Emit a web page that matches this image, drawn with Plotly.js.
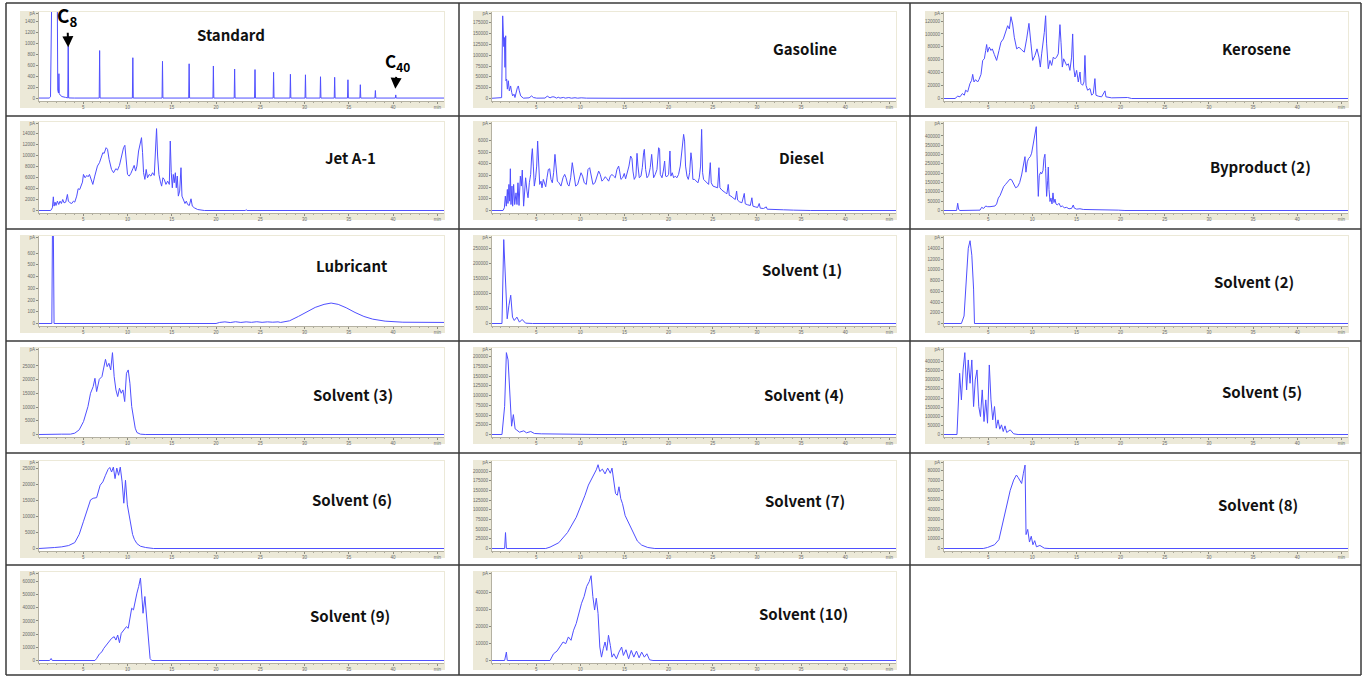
<!DOCTYPE html>
<html><head><meta charset="utf-8">
<script src="https://cdn.plot.ly/plotly-3.0.1.min.js"></script>
<style>html,body{margin:0;padding:0;background:#fff;overflow:hidden}#chart{width:1369px;height:676px}</style>
</head><body><div id="chart"></div>
<script>
// ---------- DATA: chromatograms [retention time (min), signal (pA)] ----------
const titles = ['Standard','Gasoline','Kerosene','Jet A-1','Diesel','Byproduct (2)','Lubricant',
  'Solvent (1)','Solvent (2)','Solvent (3)','Solvent (4)','Solvent (5)','Solvent (6)','Solvent (7)',
  'Solvent (8)','Solvent (9)','Solvent (10)'];

const standard = [[0,8],[1.15,8],[1.3,30],[1.45,2000],[2.0,2000],[2.06,2000],[2.12,150],[2.2,100],[2.25,450],[2.29,90],[2.4,60],[2.6,35],[3.0,20],[3.25,12],[3.3,950],[3.35,10],[4.0,8],
  [6.8,8],[6.85,870],[6.9,8],[10.55,8],[10.6,740],[10.65,8],[13.9,8],[13.95,675],[14.0,8],[16.91,8],[16.96,630],[17.01,8],
  [19.65,8],[19.7,590],[19.75,8],[22.05,8],[22.1,535],[22.15,8],[24.35,8],[24.4,525],[24.45,8],[26.45,8],[26.5,475],[26.55,8],
  [28.35,8],[28.4,440],[28.45,8],[30.05,8],[30.1,430],[30.15,8],[31.75,8],[31.8,395],[31.85,8],[33.35,8],[33.4,385],[33.45,8],
  [34.85,8],[34.9,340],[34.95,8],[36.25,8],[36.3,250],[36.35,8],[37.95,8],[38.0,145],[38.05,8],[40.25,8],[40.3,65],[40.35,8],[45.75,8]];

const gasoline = [[0,500],[1.05,500],[1.09,2000],[1.21,191000],[1.28,164000],[1.34,120000],[1.40,141000],[1.47,72000],[1.55,145000],[1.58,41000],[1.66,45000],[1.74,21600],[1.85,41000],[1.96,17700],[2.11,29000],[2.23,14000],[2.34,6000],[2.49,10000],[2.60,2300],[2.87,25000],[2.98,29000],[3.09,17700],[3.25,6000],[3.55,800],[4.2,1500],[4.49,6000],[4.68,2300],[5.06,800],[6.0,1000],[6.26,5400],[6.57,1500],[6.8,3800],[7.02,3800],[7.32,800],[7.5,3000],[7.7,900],[8.08,2500],[8.3,800],[8.7,2200],[9.0,700],[9.4,1800],[9.7,700],[10.1,1600],[10.7,800],[11.5,1000],[12.5,600],[14.5,500],[45.75,500]];

const kerosene = [[0,0],[1.25,0],[1.55,3600],[1.81,2600],[2.08,7700],[2.30,5100],[2.45,12800],[2.68,10300],[2.94,23100],[3.13,28200],[3.25,37400],[3.40,25600],[3.58,29200],[3.81,25600],[3.96,29200],[4.19,37400],[4.38,59000],[4.57,61500],[4.72,74400],[4.83,83600],[4.94,71800],[5.13,79500],[5.32,74400],[5.47,76900],[5.70,68200],[5.96,59000],[6.23,74400],[6.45,87200],[6.72,92300],[6.98,105100],[7.21,112800],[7.40,107700],[7.58,126700],[7.77,115400],[7.96,94900],[8.23,76900],[8.49,79500],[8.79,75400],[9.09,71800],[9.36,92300],[9.62,116400],[9.85,84600],[10.04,59000],[10.30,66700],[10.53,76900],[10.75,64100],[10.91,48700],[11.06,69200],[11.25,87200],[11.36,102600],[11.51,128200],[11.62,84600],[11.81,46200],[12.0,59000],[12.19,51300],[12.38,64100],[12.57,61500],[12.75,64100],[12.94,69200],[13.13,114400],[13.25,87200],[13.40,48700],[13.55,61500],[13.70,56400],[13.89,51300],[14.08,53800],[14.26,43600],[14.45,64100],[14.57,100000],[14.68,48700],[14.83,33300],[15.02,43600],[15.21,25600],[15.40,41000],[15.51,23100],[15.70,20500],[15.85,25600],[15.96,66700],[16.08,20500],[16.26,12800],[16.53,15400],[16.72,5100],[16.91,7700],[17.09,30800],[17.21,5100],[17.47,3600],[17.85,2600],[18.23,11800],[18.34,2600],[18.98,1000],[20.79,1500],[21.25,0],[45.75,0]];

const jetA1 = [[0,0],[1.32,0],[1.51,480],[1.62,2480],[1.70,790],[1.81,1520],[1.92,910],[2.08,1700],[2.23,1090],[2.38,1700],[2.53,1270],[2.68,2000],[2.83,1390],[3.02,1520],[3.21,2910],[3.32,1700],[3.51,1390],[3.70,1270],[3.89,1700],[4.04,1520],[4.26,2610],[4.42,3940],[4.60,3820],[4.72,4420],[4.91,5150],[5.02,6540],[5.21,5940],[5.40,6360],[5.55,6120],[5.70,6540],[5.85,5640],[6.08,4730],[6.30,6240],[6.60,8060],[6.83,8670],[7.06,9880],[7.21,10480],[7.36,10360],[7.58,11390],[7.74,11090],[7.92,9270],[8.19,7450],[8.42,6850],[8.68,7580],[8.87,7330],[9.09,8180],[9.32,9880],[9.55,11390],[9.70,11820],[9.85,9270],[10.0,6540],[10.19,6240],[10.38,6730],[10.60,7580],[10.75,8180],[10.91,7150],[11.06,8060],[11.25,10790],[11.43,12420],[11.58,13210],[11.70,10480],[11.81,6850],[11.96,5640],[12.11,7450],[12.26,5940],[12.45,6540],[12.64,6240],[12.83,6850],[13.02,6360],[13.13,9880],[13.28,14850],[13.40,9880],[13.55,6540],[13.70,5330],[13.85,4420],[14.0,5940],[14.15,5640],[14.34,4730],[14.53,5330],[14.72,4730],[14.83,12600],[14.94,6850],[15.06,4120],[15.17,6540],[15.28,5030],[15.40,6850],[15.51,4120],[15.62,6240],[15.74,2610],[15.89,3520],[16.04,7760],[16.15,2610],[16.30,2000],[16.49,1270],[16.64,1700],[16.79,1090],[16.98,910],[17.17,2120],[17.32,790],[17.55,480],[17.92,180],[18.30,60],[18.68,0],[23.3,0],[23.4,150],[23.5,0],[45.75,0]];

const diesel = [[0,0],[1.25,0],[1.40,230],[1.51,1230],[1.62,370],[1.74,1800],[1.81,600],[1.92,2230],[2.00,800],[2.08,3570],[2.15,510],[2.26,2090],[2.34,370],[2.45,2230],[2.57,510],[2.72,1510],[2.83,510],[2.94,2370],[3.06,430],[3.21,2940],[3.32,2090],[3.43,3460],[3.58,370],[3.70,2090],[3.81,2800],[3.96,1660],[4.08,1090],[4.23,2370],[4.38,3090],[4.49,4660],[4.57,5290],[4.68,3800],[4.79,2090],[4.94,2800],[5.06,3800],[5.17,5940],[5.28,3800],[5.40,2230],[5.55,2510],[5.66,1940],[5.81,2660],[5.92,2370],[6.08,2030],[6.23,2800],[6.38,3510],[6.53,3570],[6.68,2660],[6.83,2370],[6.98,3230],[7.13,4800],[7.25,3510],[7.40,2510],[7.58,2370],[7.81,2090],[8.04,2800],[8.23,3090],[8.38,2800],[8.57,2230],[8.72,2090],[8.91,2800],[9.09,4090],[9.28,3090],[9.47,2090],[9.70,2230],[9.89,2800],[10.08,3230],[10.26,2940],[10.45,2370],[10.68,2230],[10.87,3510],[11.06,3660],[11.25,2940],[11.43,2230],[11.66,2370],[11.89,2940],[12.08,3370],[12.26,3090],[12.45,2510],[12.64,2660],[12.83,2890],[13.02,2710],[13.21,2510],[13.40,2940],[13.58,3090],[13.77,2940],[13.96,2800],[14.15,3510],[14.34,3800],[14.45,3370],[14.60,2660],[14.79,2800],[14.98,3170],[15.13,2710],[15.32,3230],[15.51,3800],[15.70,4660],[15.85,4430],[15.96,3370],[16.11,2660],[16.30,2940],[16.42,4890],[16.53,3800],[16.68,2800],[16.87,2940],[17.02,3660],[17.17,4940],[17.25,5230],[17.40,3510],[17.55,2800],[17.74,3000],[17.92,3660],[18.08,4800],[18.15,3940],[18.30,2800],[18.49,3090],[18.68,3510],[18.87,5370],[18.98,5230],[19.06,3090],[19.25,2800],[19.40,3370],[19.55,4230],[19.66,2940],[19.81,2890],[20.0,3090],[20.15,5090],[20.26,2940],[20.41,3230],[20.57,2800],[20.75,2940],[20.94,2800],[21.13,3090],[21.32,3800],[21.51,5230],[21.70,6510],[21.81,5940],[21.92,3800],[22.08,2940],[22.23,2660],[22.38,3230],[22.53,4940],[22.64,4230],[22.75,2660],[22.94,2660],[23.13,2510],[23.32,2370],[23.47,2800],[23.62,3800],[23.74,6940],[23.85,3230],[23.96,2660],[24.15,2510],[24.34,2370],[24.53,2230],[24.72,4090],[24.83,2370],[25.02,2090],[25.21,2030],[25.40,1940],[25.55,1940],[25.70,3660],[25.81,1940],[26.04,1740],[26.23,1660],[26.45,1510],[26.60,1430],[26.75,2230],[26.87,1290],[27.06,1230],[27.28,1090],[27.55,940],[27.70,1660],[27.81,890],[28.04,740],[28.30,660],[28.57,1460],[28.68,570],[28.94,490],[29.25,430],[29.43,1090],[29.55,370],[29.81,310],[30.08,260],[30.26,600],[30.38,200],[30.75,170],[31.06,310],[31.17,110],[31.51,90],[31.89,110],[32.26,60],[33.02,60],[34.15,30],[36.04,0],[45.75,0]];

const byproduct2 = [[0,0],[1.43,0],[1.55,38900],[1.66,5600],[1.81,0],[4.08,1900],[4.26,16700],[4.49,11100],[4.72,24100],[4.94,20400],[5.21,20400],[5.47,20400],[5.77,24100],[5.96,35200],[6.15,66700],[6.34,79600],[6.53,103700],[6.75,127800],[6.98,140700],[7.21,153700],[7.47,168500],[7.66,164800],[7.89,140700],[8.11,122200],[8.34,127800],[8.57,150000],[8.79,190700],[8.98,242600],[9.17,288900],[9.28,205600],[9.43,261100],[9.58,279600],[9.77,288900],[9.92,307400],[10.08,353700],[10.23,390700],[10.38,418500],[10.45,450000],[10.53,298100],[10.60,85200],[10.68,75900],[10.79,187000],[10.94,205600],[11.06,196300],[11.21,214800],[11.32,279600],[11.43,301900],[11.51,224100],[11.62,75900],[11.74,159300],[11.81,233300],[11.89,113000],[12.0,48100],[12.11,66700],[12.23,35200],[12.34,94400],[12.45,42600],[12.57,61100],[12.68,35200],[12.83,29600],[13.02,38900],[13.21,20400],[13.40,24100],[13.62,14800],[13.89,16700],[14.15,9300],[14.45,11100],[14.64,29600],[14.75,13000],[15.02,7400],[15.40,9300],[15.77,5600],[16.34,5600],[17.09,3700],[18.23,5600],[18.98,5600],[19.74,1900],[20.49,0],[45.75,0]];

const lubricant = [[0,0],[1.45,0],[1.52,800],[1.62,800],[1.7,0],[20.0,0],[20.4,9],[21.0,14],[21.6,8],[22.2,15],[22.8,9],[23.4,14],[24.0,10],[24.6,15],[25.2,10],[25.8,14],[26.4,11],[27.0,14],[27.3,9],[28.3,23],[29.3,60],[30.2,100],[31.2,137],[32.2,163],[33.0,174],[33.8,163],[34.7,134],[35.7,94],[36.7,60],[37.7,37],[39.1,20],[41.1,11],[45.1,9],[45.75,9]];

const solvent1 = [[0,0],[1.13,0],[1.33,280000],[1.53,139000],[1.72,15700],[1.92,60700],[2.12,94400],[2.32,21300],[2.52,10100],[2.82,21300],[3.11,4500],[3.41,13500],[3.8,1100],[4.6,0],[45.75,0]];

const solvent2 = [[0,0],[1.97,0],[2.27,1390],[2.56,8330],[2.75,14000],[2.95,15400],[3.15,12700],[3.35,6400],[3.45,0],[45.75,0]];

const solvent3 = [[0,0],[1.08,120],[1.6,240],[2.56,120],[3.55,120],[4.04,490],[4.54,1700],[5.03,4730],[5.53,10190],[5.82,15050],[6.12,17480],[6.32,20510],[6.51,15660],[6.81,20150],[7.11,21120],[7.31,24150],[7.51,27430],[7.70,24760],[7.90,25980],[8.10,23550],[8.30,29860],[8.49,21120],[8.69,16270],[8.89,13840],[9.09,16880],[9.29,15050],[9.48,16270],[9.68,12020],[9.88,22340],[10.08,23550],[10.27,18700],[10.47,10200],[10.67,6560],[10.87,2310],[11.06,730],[11.46,120],[12.0,0],[45.75,0]];

const solvent4 = [[0,0],[1.13,0],[1.43,72300],[1.63,210000],[1.82,191300],[2.02,106300],[2.22,21300],[2.42,51000],[2.62,14500],[2.82,11100],[3.11,5900],[3.60,9400],[3.9,4300],[4.39,7700],[4.8,2600],[5.58,1700],[7.5,850],[9.5,850],[12.0,0],[45.75,0]];

const solvent5 = [[0,0],[1.47,0],[1.77,335800],[1.97,189800],[2.16,354000],[2.36,448900],[2.56,244500],[2.75,408800],[2.95,281000],[3.15,408800],[3.35,153300],[3.54,299300],[3.74,354000],[3.94,153300],[4.13,98500],[4.33,244500],[4.53,71200],[4.73,189800],[4.93,62000],[5.13,381400],[5.32,189800],[5.52,80300],[5.72,153300],[5.92,34700],[6.12,80300],[6.32,29200],[6.51,52900],[6.71,16400],[6.91,47400],[7.10,11000],[7.50,25500],[7.89,3600],[8.39,0],[45.75,0]];

const solvent6 = [[0,0],[1.08,100],[1.77,310],[2.56,510],[3.35,920],[4.04,1840],[4.54,4390],[5.03,8470],[5.53,12550],[5.82,15100],[6.12,15610],[6.51,15810],[6.91,19690],[7.21,20710],[7.51,22760],[7.80,24590],[8.0,25200],[8.20,23770],[8.40,25300],[8.59,21730],[8.79,25000],[8.99,22760],[9.18,25300],[9.39,20710],[9.58,14080],[9.77,21220],[9.98,13570],[10.17,10510],[10.37,6940],[10.57,4390],[10.77,2860],[11.06,1530],[11.46,710],[12.05,310],[12.94,0],[45.75,0]];

const solvent7 = [[0,0],[1.43,0],[1.53,41200],[1.63,0],[6.08,0],[6.57,3500],[7.56,14900],[8.55,41200],[9.54,80700],[10.03,107000],[10.53,137700],[10.92,164000],[11.22,177200],[11.52,190400],[11.81,203500],[12.01,216700],[12.21,199100],[12.50,205300],[12.80,193000],[13.10,207900],[13.40,194700],[13.59,207900],[13.79,172700],[13.99,142100],[14.19,137700],[14.38,159600],[14.58,128900],[14.78,115800],[15.08,85100],[15.37,71900],[15.67,58800],[16.06,36800],[16.46,19300],[16.95,8800],[17.64,2600],[18.44,0],[45.75,0]];

const solvent8 = [[0,0],[4.44,0],[4.93,1050],[5.72,3850],[6.22,9090],[6.72,28300],[7.10,45800],[7.50,59800],[7.89,70300],[8.20,75500],[8.39,73100],[8.60,70300],[8.79,66800],[8.99,77300],[9.18,85700],[9.29,14300],[9.48,19600],[9.68,6640],[9.88,12600],[10.07,3850],[10.27,8040],[10.47,1750],[10.86,3150],[11.36,350],[11.9,0],[45.75,0]];

const solvent9 = [[0,0],[1.2,0],[1.37,1530],[1.5,0],[6.32,0],[6.51,1530],[6.81,4840],[7.11,6620],[7.31,9160],[7.60,11710],[7.90,14250],[8.20,16790],[8.49,18070],[8.69,15520],[8.89,19340],[9.09,13490],[9.29,20610],[9.58,23160],[9.88,25700],[10.08,24430],[10.27,33340],[10.47,39690],[10.67,38420],[10.87,46060],[11.06,51150],[11.26,56240],[11.46,62600],[11.65,46060],[11.75,35880],[11.96,48600],[12.15,33340],[12.34,15520],[12.55,1530],[12.74,0],[45.75,0]];

const solvent10 = [[0,0],[1.43,0],[1.63,4950],[1.73,0],[6.57,0],[6.97,3960],[7.36,5540],[7.76,8910],[8.05,10890],[8.35,9900],[8.65,13860],[8.95,11880],[9.24,17820],[9.54,21780],[9.83,27720],[10.14,33660],[10.43,37620],[10.72,43560],[11.02,46530],[11.22,49900],[11.42,37620],[11.62,29700],[11.81,36630],[12.01,27720],[12.21,7920],[12.40,1980],[12.60,6930],[12.80,10890],[13.0,5940],[13.19,14850],[13.40,8910],[13.59,1980],[13.79,3960],[14.09,990],[14.38,4950],[14.68,7920],[14.88,2970],[15.17,6340],[15.47,990],[15.77,5940],[16.06,1980],[16.36,5540],[16.66,1580],[16.95,4950],[17.25,1980],[17.54,3960],[17.84,400],[18.23,0],[45.75,0]];

const series = [standard,gasoline,kerosene,jetA1,diesel,byproduct2,lubricant,solvent1,solvent2,solvent3,
  solvent4,solvent5,solvent6,solvent7,solvent8,solvent9,solvent10];

// y tick values (pA) and top of each signal axis
const yTicks = [
  [0,200,400,600,800,1000,1200,1400],
  [0,25000,50000,75000,100000,125000,150000,175000],
  [0,20000,40000,60000,80000,100000,120000],
  [0,2000,4000,6000,8000,10000,12000,14000],
  [0,1000,2000,3000,4000,5000,6000],
  [0,50000,100000,150000,200000,250000,300000,350000,400000],
  [0,100,200,300,400,500,600],
  [0,50000,100000,150000,200000,250000],
  [0,2000,4000,6000,8000,10000,12000,14000],
  [0,5000,10000,15000,20000,25000],
  [0,25000,50000,75000,100000,125000,150000,175000,200000],
  [0,50000,100000,150000,200000,250000,300000,350000,400000],
  [0,5000,10000,15000,20000,25000],
  [0,25000,50000,75000,100000,125000,150000,175000,200000],
  [0,10000,20000,30000,40000,50000,60000,70000,80000],
  [0,10000,20000,30000,40000,50000,60000],
  [0,10000,20000,30000,40000]];
const yTops = [1570,200000,134000,16050,7570,475000,745,292000,16280,31560,221900,474400,27200,226300,89900,67200,52070];
const xTickVals = [5,10,15,20,25,30,35,40,45];
const xTickText = ['5','10','15','20','25','30','35','40','min'];
const xMax = 45.75;
const c8 = {t:3.3, pA:930}, c40 = {t:40.25, pA:175};

// ---------- LAYOUT GEOMETRY (pixels) ----------
const W = 1369, H = 676;
const colLeft = [20,473,925], colRight = [445,897,1349];
const rowTop = [11,121,235,347,460,571], rowBottom = [108,220,333,444,558,670];
const titlePos = [[231,35],[805,49],[1256,48],[350,158],[801,158],[1260,166],[352,265],[802,269],[1254,281],
  [353,394],[804,394],[1262,391],[352,499],[805,501],[1258,504],[350,615],[804,613]];
const gridX = [6,459,910,1361], gridY = [3,116,229,341,453,565,675];

const px = x => x / W, py = y => 1 - y / H;
const traces = [];
const layout = {width:W, height:H, margin:{l:0,r:0,t:0,b:0}, paper_bgcolor:'#fff', plot_bgcolor:'rgba(0,0,0,0)',
  showlegend:false, shapes:[], annotations:[], font:{family:'Liberation Sans, Arial, sans-serif'}};
const tickFont = {size:4.5, color:'#6a6a6a', family:'Liberation Sans, Arial, sans-serif'};
const fmt = v => String(v);

series.forEach((s, i) => {
  const c = i % 3, r = Math.floor(i / 3);
  const L = colLeft[c], R = colRight[c], T = rowTop[r], B = rowBottom[r];
  const x0 = L + 19, x1 = R - 1, y0 = T + 1, y1 = B - 7;
  const id = i === 0 ? '' : String(i + 1);
  traces.push({type:'scatter', mode:'lines', x:s.map(p => p[0]), y:s.map(p => p[1]),
    xaxis:'x' + id, yaxis:'y' + id, line:{color:'#4f4fff', width:1}, hoverinfo:'skip'});
  const top = yTops[i], h = y1 - y0;
  const bottom = -2.5 * top / (h - 2.5);
  layout['xaxis' + id] = {domain:[px(x0), px(x1)], range:[0, xMax], anchor:'y' + id, showgrid:false, zeroline:false,
    showline:true, linecolor:'#b4b1a2', linewidth:1, ticks:'outside', ticklen:2, tickwidth:1, tickcolor:'#8c8a7e',
    tickvals:xTickVals, ticktext:xTickText, tickfont:tickFont, automargin:false, fixedrange:true,
    minor:{ticks:'outside', ticklen:1, tickmode:'linear', tick0:0, dtick:1, tickcolor:'#a9a79b', showgrid:false}};
  layout['yaxis' + id] = {domain:[py(y1), py(y0)], range:[bottom, top], anchor:'x' + id, showgrid:false, zeroline:false,
    showline:true, linecolor:'#b4b1a2', linewidth:1, ticks:'outside', ticklen:2, tickwidth:1, tickcolor:'#8c8a7e',
    tickvals:yTicks[i].concat([top * 0.985]), ticktext:yTicks[i].map(fmt).concat(['pA']),
    tickfont:tickFont, automargin:false, fixedrange:true};
  layout.shapes.push({type:'rect', xref:'paper', yref:'paper', x0:px(L), x1:px(R), y0:py(B), y1:py(T),
    fillcolor:'#ece9d8', line:{width:0}, layer:'below'});
  layout.shapes.push({type:'rect', xref:'paper', yref:'paper', x0:px(x0), x1:px(x1), y0:py(y1), y1:py(y0),
    fillcolor:'#ffffff', line:{width:0}, layer:'below'});
  layout.annotations.push({xref:'paper', yref:'paper', x:px(titlePos[i][0]), y:py(titlePos[i][1]),
    xanchor:'center', yanchor:'middle', showarrow:false, text:titles[i],
    font:{family:'Noto Sans CJK KR, Noto Sans, sans-serif', size:15, color:'#111', weight:700}});
});

// C8 / C40 markers on the standard chromatogram
layout.annotations.push({xref:'x', yref:'y', x:c8.t, y:c8.pA, ax:-1, ay:-31, text:'C<sub>8</sub>',
  showarrow:true, arrowhead:2, arrowsize:1.1, arrowwidth:2, arrowcolor:'#000', standoff:0,
  font:{family:'Noto Sans CJK KR, Noto Sans, sans-serif', size:19, color:'#000', weight:700}});
layout.annotations.push({xref:'x', yref:'y', x:c40.t, y:c40.pA, ax:2, ay:-27, text:'C<sub>40</sub>',
  showarrow:true, arrowhead:2, arrowsize:1.1, arrowwidth:2, arrowcolor:'#000', standoff:0,
  font:{family:'Noto Sans CJK KR, Noto Sans, sans-serif', size:17, color:'#000', weight:700}});

// table grid
gridX.forEach(x => layout.shapes.push({type:'line', xref:'paper', yref:'paper', x0:px(x), x1:px(x),
  y0:py(gridY[0]), y1:py(gridY[gridY.length - 1]), line:{color:'#3a3a3a', width:1.5}, layer:'above'}));
gridY.forEach(y => layout.shapes.push({type:'line', xref:'paper', yref:'paper', x0:px(gridX[0]), x1:px(gridX[gridX.length - 1]),
  y0:py(y), y1:py(y), line:{color:'#3a3a3a', width:1.5}, layer:'above'}));

Plotly.newPlot('chart', traces, layout, {staticPlot:true, displayModeBar:false});
</script>
</body></html>
